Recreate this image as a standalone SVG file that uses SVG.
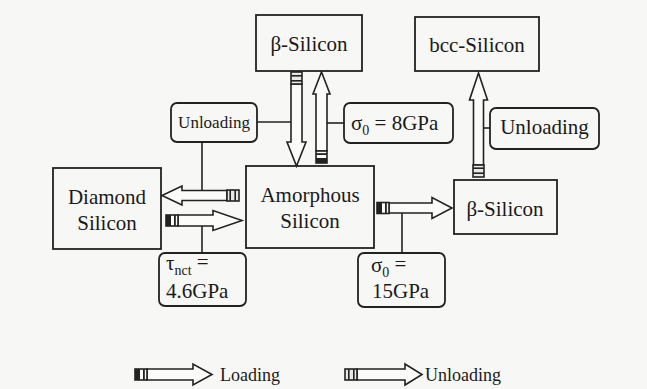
<svg xmlns="http://www.w3.org/2000/svg" width="647" height="389" viewBox="0 0 647 389" font-family="'Liberation Serif', 'DejaVu Serif', 'Times New Roman', serif">
<style>
.bg{fill:#f7f7f5}
.box{fill:none;stroke:#222;stroke-width:1.8}
.lbl{fill:none;stroke:#222;stroke-width:1.8}
text{font-family:'Liberation Serif','DejaVu Serif','Times New Roman',serif;fill:#1a1a1a}
.t{font-size:21px;text-anchor:middle}
.ts{font-size:21px}
.lg{font-size:18px}
.arr{fill:#fbfbfa;stroke:#222;stroke-width:1.6;stroke-linejoin:miter}
.ln{stroke:#222;stroke-width:1.6;fill:none}
.dk{fill:#222}
</style>
<defs>
<g id="tailLoad">
<rect x="0" y="-5.5" width="12" height="11" fill="#fbfbfa" stroke="#222" stroke-width="1.6"/>
<rect x="0" y="-5.5" width="5" height="11" class="dk"/>
<rect x="8" y="-5.5" width="1.8" height="11" class="dk"/>
</g>
<g id="tailUnload">
<rect x="0" y="-5.5" width="12" height="11" fill="#e8e8e6" stroke="#222" stroke-width="1.6"/>
<rect x="3" y="-5.5" width="1.6" height="11" class="dk"/>
<rect x="8" y="-5.5" width="1.6" height="11" class="dk"/>
</g>
</defs>
<rect class="bg" x="0" y="0" width="647" height="389"/>

<g id="connectors">
<line class="ln" x1="257" y1="122" x2="291" y2="122"/>
<line class="ln" x1="202" y1="142" x2="202" y2="190"/>
<line class="ln" x1="344" y1="123" x2="327" y2="123"/>
<line class="ln" x1="490" y1="128" x2="483" y2="128"/>
<line class="ln" x1="202" y1="226" x2="202" y2="253"/>
<line class="ln" x1="402" y1="213" x2="402" y2="253"/>

<g transform="translate(296.5,72) rotate(90)">
<polygon class="arr" points="12,-5.5 70,-5.5 70,-9.5 94,0 70,9.5 70,5.5 12,5.5"/>
<use href="#tailUnload"/>
</g>
<g transform="translate(321.5,163) rotate(-90)">
<polygon class="arr" points="12,-5.5 69,-5.5 69,-8.5 91,0 69,8.5 69,5.5 12,5.5"/>
<use href="#tailLoad"/>
</g>
<g transform="translate(478.5,177) rotate(-90)">
<polygon class="arr" points="12,-5 77,-5 77,-9 104,0 77,9 77,5 12,5"/>
<use href="#tailUnload"/>
</g>
<g transform="translate(239,195.5) rotate(180)">
<polygon class="arr" points="12,-5 57,-5 57,-9.5 77,0 57,9.5 57,5 12,5"/>
<use href="#tailUnload"/>
</g>
<g transform="translate(166,220.5)">
<polygon class="arr" points="12,-5.5 47,-5.5 47,-10 76,0 47,10 47,5.5 12,5.5"/>
<use href="#tailLoad"/>
</g>
<g transform="translate(377,208)">
<polygon class="arr" points="12,-5 55,-5 55,-10.5 75,0 55,10.5 55,5 12,5"/>
<use href="#tailLoad"/>
</g>
</g>

<g id="beta-top">
<rect class="box" x="256" y="15" width="106" height="56"/>
<text class="t" x="309" y="51">β-Silicon</text>
</g>
<g id="bcc">
<rect class="box" x="415" y="17" width="124" height="54"/>
<text class="t" x="477" y="52">bcc-Silicon</text>
</g>
<g id="unloading-left">
<rect class="lbl" x="171" y="103" width="86" height="39" rx="6"/>
<text class="t" x="214" y="128" style="font-size:17px">Unloading</text>
</g>
<g id="sigma8">
<rect class="lbl" x="344" y="103" width="109" height="40" rx="6"/>
<text class="ts" x="351" y="130">σ<tspan font-size="14" dy="5">0</tspan><tspan dy="-5"> = 8GPa</tspan></text>
</g>
<g id="unloading-right">
<rect class="lbl" x="490" y="108" width="109" height="41" rx="6"/>
<text class="t" x="544.5" y="134">Unloading</text>
</g>
<g id="beta-right">
<rect class="box" x="454" y="180" width="103" height="54"/>
<text class="t" x="505" y="216">β-Silicon</text>
</g>
<g id="diamond">
<rect class="box" x="53" y="168" width="108" height="81"/>
<text class="t" x="107" y="204">Diamond</text>
<text class="t" x="107" y="230">Silicon</text>
</g>
<g id="amorphous">
<rect class="box" x="246" y="166" width="128" height="82"/>
<text class="t" x="310" y="202">Amorphous</text>
<text class="t" x="310" y="228">Silicon</text>
</g>
<g id="tau">
<rect class="lbl" x="159" y="253" width="87" height="53" rx="6"/>
<text class="ts" x="166" y="270">τ<tspan font-size="14" dy="5">nct</tspan><tspan dy="-6"> =</tspan></text>
<text class="ts" x="166" y="298">4.6GPa</text>
</g>
<g id="sigma15">
<rect class="lbl" x="358" y="253" width="87" height="54" rx="6"/>
<text class="ts" x="371" y="272">σ<tspan font-size="14" dy="5">0</tspan><tspan dy="-6"> =</tspan></text>
<text class="ts" x="372" y="298">15GPa</text>
</g>

<g id="legend">
<g transform="translate(135,374.5)">
<polygon class="arr" points="12,-5.5 58,-5.5 58,-10.5 77,0 58,10.5 58,5.5 12,5.5"/>
<use href="#tailLoad"/>
</g>
<text class="lg" x="220" y="381">Loading</text>
<g transform="translate(345,374.5)">
<polygon class="arr" points="12,-5.5 60,-5.5 60,-10.5 77,0 60,10.5 60,5.5 12,5.5"/>
<use href="#tailUnload"/>
</g>
<text class="lg" x="425" y="381">Unloading</text>
</g>
</svg>
